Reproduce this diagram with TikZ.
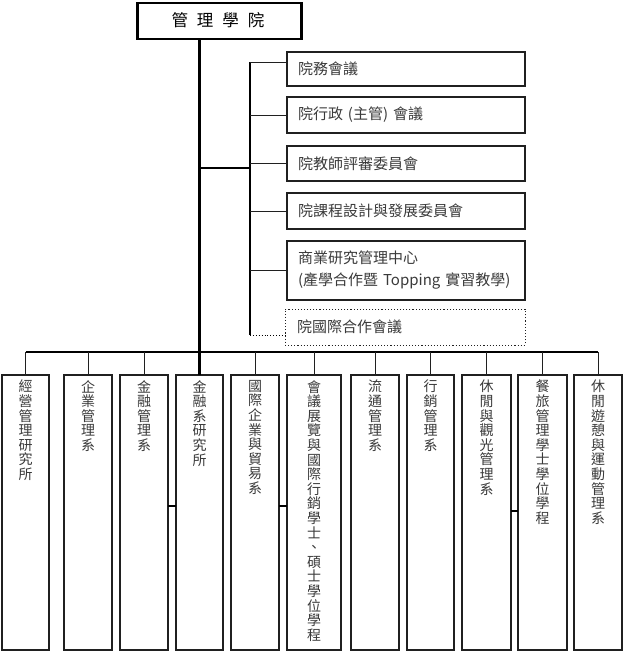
\documentclass[tikz,border=0pt]{standalone}
\usepackage{fontspec}
\setmainfont{Noto Sans CJK TC}
\usetikzlibrary{calc}
\definecolor{txt}{HTML}{3A3A3A}
\definecolor{edge}{HTML}{202020}
\tikzset{
  topbox/.style={draw=black, line width=2.6pt, minimum width=164pt, minimum height=36pt, inner sep=0pt, outer sep=0pt},
  rbox/.style={draw=edge, line width=1.1pt, minimum width=238pt, anchor=north west, inner xsep=11pt, inner ysep=0pt, outer sep=0pt, text width=216pt, align=left, font=\fontsize{15}{22}\selectfont, text=txt},
  bbox/.style={draw=edge, line width=1.2pt, minimum height=275pt, anchor=north west, inner sep=0pt, outer sep=0pt},
  vtext/.style={anchor=north, inner sep=0pt, align=center, font=\fontsize{14}{14.6}\selectfont, text=txt},
  bus/.style={line width=2.6pt, black},
  thin/.style={line width=1pt, edge},
}
\begin{document}
\begin{tikzpicture}[x=1pt, y=-1pt]
\useasboundingbox (0,0) rectangle (627,653);
% top
\node[topbox] (top) at (219.5,21) {};
\node[inner sep=0pt, font=\fontsize{16.5}{18}\selectfont] (title) at (218,20) {管\hspace{9pt}理\hspace{9pt}學\hspace{9pt}院};
% right boxes
\node[rbox, minimum height=34pt] (r1) at (287,52) {院務會議};
\node[rbox, minimum height=36pt] (r2) at (287,97) {院行政 (主管) 會議};
\node[rbox, minimum height=35pt] (r3) at (287,146) {院教師評審委員會};
\node[rbox, minimum height=36pt] (r4) at (287,193) {院課程設計與發展委員會};
\node[rbox, minimum height=59pt] (r5) at (287,241) {商業研究管理中心\\\mbox{(產學合作暨 Topping 實習教學)}};
\node[rbox, minimum height=36pt, minimum width=240pt, dotted, line width=0.9pt] (r6) at (285,309) {院國際合作會議};
% bottom boxes
\foreach \n/\x/\w in {1/2/47, 2/64/48, 3/120/48, 4/176/47, 5/231/48, 6/287/54, 7/351/48, 8/407/47, 9/462/49, 10/518/49, 11/574/48}
  \node[bbox, minimum width=\w pt] (b\n) at (\x,375) {};
\node[vtext] (t1) at ($(b1.north)+(0,5)$) {經\\營\\管\\理\\研\\究\\所};
\node[vtext] (t2) at ($(b2.north)+(0,5)$) {企\\業\\管\\理\\系};
\node[vtext] (t3) at ($(b3.north)+(0,5)$) {金\\融\\管\\理\\系};
\node[vtext] (t4) at ($(b4.north)+(0,5)$) {金\\融\\系\\研\\究\\所};
\node[vtext] (t5) at ($(b5.north)+(0,5)$) {國\\際\\企\\業\\與\\貿\\易\\系};
\node[vtext] (t6) at ($(b6.north)+(0,5)$) {會\\議\\展\\覽\\與\\國\\際\\行\\銷\\學\\士\\、\\碩\\士\\學\\位\\學\\程};
\node[vtext] (t7) at ($(b7.north)+(0,5)$) {流\\通\\管\\理\\系};
\node[vtext] (t8) at ($(b8.north)+(0,5)$) {行\\銷\\管\\理\\系};
\node[vtext] (t9) at ($(b9.north)+(0,5)$) {休\\閒\\與\\觀\\光\\管\\理\\系};
\node[vtext] (t10) at ($(b10.north)+(0,5)$) {餐\\旅\\管\\理\\學\\士\\學\\位\\學\\程};
\node[vtext] (t11) at ($(b11.north)+(0,5)$) {休\\閒\\遊\\憩\\與\\運\\動\\管\\理\\系};
% coordinates
\coordinate (trunkTop) at (top.south -| b4.north);
\coordinate (sbTop) at (250,62);
\coordinate (sbBot) at (250,335);
\coordinate (sbJoin) at (250,168);
\coordinate (busL) at (b1.north |- 0,352);
\coordinate (busR) at (b11.north |- 0,352);
% trunk and buses
\draw[bus] (trunkTop) -- (b4.north);
\draw[bus] (sbTop) -- (sbBot);
\draw[bus] (sbJoin -| trunkTop) -- (sbJoin);
\draw[bus] (busL) -- (busR);
% right connectors
\draw[thin] (sbTop) -- (sbTop -| r1.west);
\foreach \r in {r2,r3,r4,r5}
  \draw[thin] (\r.west -| sbTop) -- (\r.west);
\draw[dotted, line width=0.9pt] (sbBot) -- (sbBot -| r6.west);
% drops
\foreach \n in {1,2,3,5,6,7,8,9,10,11}
  \draw[thin] (b\n.north |- busL) -- (b\n.north);
% side links
\draw[line width=2pt] (b3.east |- 0,506) -- (b4.west |- 0,506);
\draw[line width=2pt] (b5.east |- 0,506) -- (b6.west |- 0,506);
\draw[line width=2pt] (b9.east |- 0,511) -- (b10.west |- 0,511);
\end{tikzpicture}
\end{document}
